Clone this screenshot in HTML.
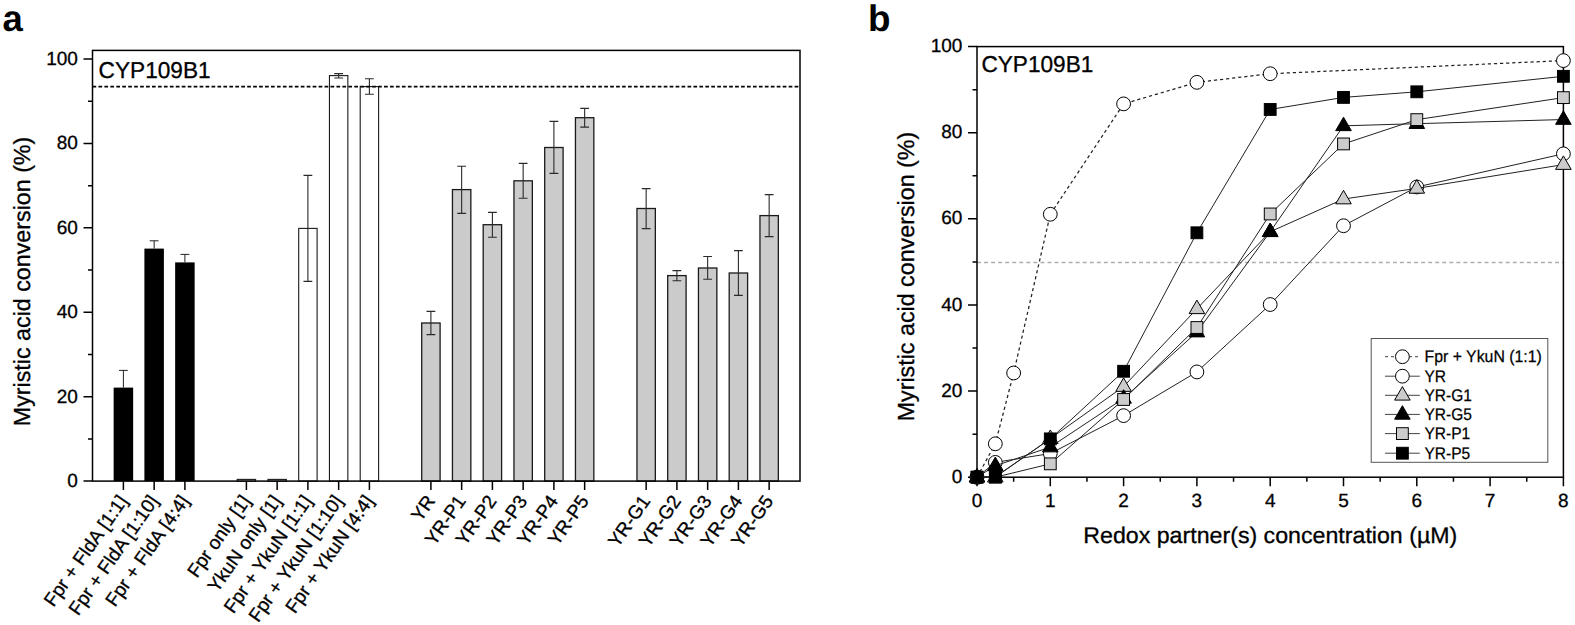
<!DOCTYPE html>
<html lang="en"><head><meta charset="utf-8"><title>Figure</title>
<style>
html,body{margin:0;padding:0;background:#fff;}
svg{display:block;font-family:"Liberation Sans", Arial, Helvetica, sans-serif;fill:#000;}
text{stroke:#000;stroke-width:0.3px;text-rendering:geometricPrecision;}
</style></head><body>
<svg width="1575" height="625" viewBox="0 0 1575 625">
<rect width="1575" height="625" fill="#fff"/>
<g id="panelA">
<rect x="113.65" y="387.6" width="19.5" height="93.5" fill="#000"/>
<path d="M123.4 387.6V370.4M119 370.4H127.8" stroke="#222" stroke-width="1" fill="none"/>
<rect x="144.4" y="248.6" width="19.5" height="232.5" fill="#000"/>
<path d="M154.15 248.6V240.8M149.75 240.8H158.55" stroke="#222" stroke-width="1" fill="none"/>
<rect x="175.15" y="262.4" width="19.5" height="218.7" fill="#000"/>
<path d="M184.9 262.4V254.4M180.5 254.4H189.3" stroke="#222" stroke-width="1" fill="none"/>
<rect x="237.2" y="479.4" width="18.4" height="1.7" fill="#fff" stroke="#1a1a1a" stroke-width="1.1"/>
<rect x="267.95" y="479.4" width="18.4" height="1.7" fill="#fff" stroke="#1a1a1a" stroke-width="1.1"/>
<rect x="298.7" y="228.4" width="18.4" height="252.7" fill="#fff" stroke="#1a1a1a" stroke-width="1.1"/>
<path d="M307.9 175.4V281.4M303.5 175.4H312.3M303.5 281.4H312.3" stroke="#2a2a2a" stroke-width="1.1" fill="none"/>
<rect x="329.45" y="75.6" width="18.4" height="405.5" fill="#fff" stroke="#1a1a1a" stroke-width="1.1"/>
<path d="M338.65 73.6V78M334.25 73.6H343.05M334.25 78H343.05" stroke="#2a2a2a" stroke-width="1.1" fill="none"/>
<rect x="360.2" y="86.6" width="18.4" height="394.5" fill="#fff" stroke="#1a1a1a" stroke-width="1.1"/>
<path d="M369.4 78.8V94.2M365 78.8H373.8M365 94.2H373.8" stroke="#2a2a2a" stroke-width="1.1" fill="none"/>
<rect x="421.7" y="323" width="18.4" height="158.1" fill="#cbcbcb" stroke="#1a1a1a" stroke-width="1.3"/>
<path d="M430.9 311.4V334.6M426.5 311.4H435.3M426.5 334.6H435.3" stroke="#2a2a2a" stroke-width="1.1" fill="none"/>
<rect x="452.45" y="189.6" width="18.4" height="291.5" fill="#cbcbcb" stroke="#1a1a1a" stroke-width="1.3"/>
<path d="M461.65 166.2V213.4M457.25 166.2H466.05M457.25 213.4H466.05" stroke="#2a2a2a" stroke-width="1.1" fill="none"/>
<rect x="483.2" y="224.7" width="18.4" height="256.4" fill="#cbcbcb" stroke="#1a1a1a" stroke-width="1.3"/>
<path d="M492.4 212.4V237.2M488 212.4H496.8M488 237.2H496.8" stroke="#2a2a2a" stroke-width="1.1" fill="none"/>
<rect x="513.95" y="180.8" width="18.4" height="300.3" fill="#cbcbcb" stroke="#1a1a1a" stroke-width="1.3"/>
<path d="M523.15 163.4V198.2M518.75 163.4H527.55M518.75 198.2H527.55" stroke="#2a2a2a" stroke-width="1.1" fill="none"/>
<rect x="544.7" y="147.5" width="18.4" height="333.6" fill="#cbcbcb" stroke="#1a1a1a" stroke-width="1.3"/>
<path d="M553.9 121.4V173.4M549.5 121.4H558.3M549.5 173.4H558.3" stroke="#2a2a2a" stroke-width="1.1" fill="none"/>
<rect x="575.45" y="117.7" width="18.4" height="363.4" fill="#cbcbcb" stroke="#1a1a1a" stroke-width="1.3"/>
<path d="M584.65 108.4V127.1M580.25 108.4H589.05M580.25 127.1H589.05" stroke="#2a2a2a" stroke-width="1.1" fill="none"/>
<rect x="636.95" y="208.5" width="18.4" height="272.6" fill="#cbcbcb" stroke="#1a1a1a" stroke-width="1.3"/>
<path d="M646.15 188.6V228.6M641.75 188.6H650.55M641.75 228.6H650.55" stroke="#2a2a2a" stroke-width="1.1" fill="none"/>
<rect x="667.7" y="275.6" width="18.4" height="205.5" fill="#cbcbcb" stroke="#1a1a1a" stroke-width="1.3"/>
<path d="M676.9 270.6V280.7M672.5 270.6H681.3M672.5 280.7H681.3" stroke="#2a2a2a" stroke-width="1.1" fill="none"/>
<rect x="698.45" y="268" width="18.4" height="213.1" fill="#cbcbcb" stroke="#1a1a1a" stroke-width="1.3"/>
<path d="M707.65 256.5V279.3M703.25 256.5H712.05M703.25 279.3H712.05" stroke="#2a2a2a" stroke-width="1.1" fill="none"/>
<rect x="729.2" y="273" width="18.4" height="208.1" fill="#cbcbcb" stroke="#1a1a1a" stroke-width="1.3"/>
<path d="M738.4 250.6V295.4M734 250.6H742.8M734 295.4H742.8" stroke="#2a2a2a" stroke-width="1.1" fill="none"/>
<rect x="759.95" y="215.6" width="18.4" height="265.5" fill="#cbcbcb" stroke="#1a1a1a" stroke-width="1.3"/>
<path d="M769.15 194.6V236.6M764.75 194.6H773.55M764.75 236.6H773.55" stroke="#2a2a2a" stroke-width="1.1" fill="none"/>
<line x1="92.5" y1="86.6" x2="800.0" y2="86.6" stroke="#000" stroke-width="1.6" stroke-dasharray="3.7 2.25"/>
<rect x="92.5" y="50.4" width="707.5" height="430.7" fill="none" stroke="#000" stroke-width="1.5"/>
<path d="M83.5 481.1H92.5M88 438.89H92.5M83.5 396.68H92.5M88 354.47H92.5M83.5 312.26H92.5M88 270.05H92.5M83.5 227.84H92.5M88 185.63H92.5M83.5 143.42H92.5M88 101.21H92.5M83.5 59H92.5" stroke="#000" stroke-width="1.5" fill="none"/>
<text x="77.9" y="486.95" text-anchor="end" font-size="19">0</text>
<text x="77.9" y="402.53" text-anchor="end" font-size="19">20</text>
<text x="77.9" y="318.11" text-anchor="end" font-size="19">40</text>
<text x="77.9" y="233.69" text-anchor="end" font-size="19">60</text>
<text x="77.9" y="149.27" text-anchor="end" font-size="19">80</text>
<text x="77.9" y="64.85" text-anchor="end" font-size="19">100</text>
<path d="M123.4 481.1v9M154.15 481.1v9M184.9 481.1v9M246.4 481.1v9M277.15 481.1v9M307.9 481.1v9M338.65 481.1v9M369.4 481.1v9M430.9 481.1v9M461.65 481.1v9M492.4 481.1v9M523.15 481.1v9M553.9 481.1v9M584.65 481.1v9M646.15 481.1v9M676.9 481.1v9M707.65 481.1v9M738.4 481.1v9M769.15 481.1v9" stroke="#000" stroke-width="1.5" fill="none"/>
<text transform="translate(128.4 501) rotate(-55)" text-anchor="end" font-size="19">Fpr + FldA [1:1]</text>
<text transform="translate(159.15 501) rotate(-55)" text-anchor="end" font-size="19">Fpr + FldA [1:10]</text>
<text transform="translate(189.9 501) rotate(-55)" text-anchor="end" font-size="19">Fpr + FldA [4:4]</text>
<text transform="translate(251.4 501) rotate(-55)" text-anchor="end" font-size="19">Fpr only [1]</text>
<text transform="translate(282.15 501) rotate(-55)" text-anchor="end" font-size="19">YkuN only [1]</text>
<text transform="translate(312.9 501) rotate(-55)" text-anchor="end" font-size="19">Fpr + YkuN [1:1]</text>
<text transform="translate(343.65 501) rotate(-55)" text-anchor="end" font-size="19">Fpr + YkuN [1:10]</text>
<text transform="translate(374.4 501) rotate(-55)" text-anchor="end" font-size="19">Fpr + YkuN [4:4]</text>
<text transform="translate(435.9 501) rotate(-55)" text-anchor="end" font-size="19">YR</text>
<text transform="translate(466.65 501) rotate(-55)" text-anchor="end" font-size="19">YR-P1</text>
<text transform="translate(497.4 501) rotate(-55)" text-anchor="end" font-size="19">YR-P2</text>
<text transform="translate(528.15 501) rotate(-55)" text-anchor="end" font-size="19">YR-P3</text>
<text transform="translate(558.9 501) rotate(-55)" text-anchor="end" font-size="19">YR-P4</text>
<text transform="translate(589.65 501) rotate(-55)" text-anchor="end" font-size="19">YR-P5</text>
<text transform="translate(651.15 501) rotate(-55)" text-anchor="end" font-size="19">YR-G1</text>
<text transform="translate(681.9 501) rotate(-55)" text-anchor="end" font-size="19">YR-G2</text>
<text transform="translate(712.65 501) rotate(-55)" text-anchor="end" font-size="19">YR-G3</text>
<text transform="translate(743.4 501) rotate(-55)" text-anchor="end" font-size="19">YR-G4</text>
<text transform="translate(774.15 501) rotate(-55)" text-anchor="end" font-size="19">YR-G5</text>
<text x="98.6" y="77.6" font-size="22.9" textLength="112" lengthAdjust="spacingAndGlyphs">CYP109B1</text>
<text transform="translate(30.2 426.2) rotate(-90)" font-size="23.3" textLength="289.5" lengthAdjust="spacingAndGlyphs">Myristic acid conversion (%)</text>
<text x="2.4" y="30.5" font-size="36.5" font-weight="bold" style="stroke-width:0">a</text>
</g>
<g id="panelB">
<line x1="977.0" y1="262.5" x2="1563.4" y2="262.5" stroke="#adadad" stroke-width="1.3" stroke-dasharray="3.9 3.15"/>
<rect x="977.0" y="46.6" width="586.4" height="430.6" fill="none" stroke="#000" stroke-width="1.5"/>
<path d="M968 477.2H977.0M972.5 434.14H977.0M968 391.08H977.0M972.5 348.02H977.0M968 304.96H977.0M972.5 261.9H977.0M968 218.84H977.0M972.5 175.78H977.0M968 132.72H977.0M972.5 89.66H977.0M968 46.6H977.0M977 477.2v9M1013.65 477.2v4.5M1050.3 477.2v9M1086.95 477.2v4.5M1123.6 477.2v9M1160.25 477.2v4.5M1196.9 477.2v9M1233.55 477.2v4.5M1270.2 477.2v9M1306.85 477.2v4.5M1343.5 477.2v9M1380.15 477.2v4.5M1416.8 477.2v9M1453.45 477.2v4.5M1490.1 477.2v9M1526.75 477.2v4.5M1563.4 477.2v9" stroke="#000" stroke-width="1.5" fill="none"/>
<text x="962.4" y="482.85" text-anchor="end" font-size="19">0</text>
<text x="962.4" y="396.73" text-anchor="end" font-size="19">20</text>
<text x="962.4" y="310.61" text-anchor="end" font-size="19">40</text>
<text x="962.4" y="224.49" text-anchor="end" font-size="19">60</text>
<text x="962.4" y="138.37" text-anchor="end" font-size="19">80</text>
<text x="962.4" y="52.25" text-anchor="end" font-size="19">100</text>
<text x="977" y="506.6" text-anchor="middle" font-size="19">0</text>
<text x="1050.3" y="506.6" text-anchor="middle" font-size="19">1</text>
<text x="1123.6" y="506.6" text-anchor="middle" font-size="19">2</text>
<text x="1196.9" y="506.6" text-anchor="middle" font-size="19">3</text>
<text x="1270.2" y="506.6" text-anchor="middle" font-size="19">4</text>
<text x="1343.5" y="506.6" text-anchor="middle" font-size="19">5</text>
<text x="1416.8" y="506.6" text-anchor="middle" font-size="19">6</text>
<text x="1490.1" y="506.6" text-anchor="middle" font-size="19">7</text>
<text x="1563.4" y="506.6" text-anchor="middle" font-size="19">8</text>
<polyline points="977,477.2 995.33,443.79 1013.65,372.99 1050.3,214.28 1123.6,103.87 1196.9,82.34 1270.2,73.73 1563.4,60.59" fill="none" stroke="#222" stroke-dasharray="3.2 2.9" stroke-width="1.25"/>
<circle cx="977" cy="477.2" r="6.9" fill="#fff" stroke="#000" stroke-width="1"/>
<circle cx="995.33" cy="443.79" r="6.9" fill="#fff" stroke="#000" stroke-width="1"/>
<circle cx="1013.65" cy="372.99" r="6.9" fill="#fff" stroke="#000" stroke-width="1"/>
<circle cx="1050.3" cy="214.28" r="6.9" fill="#fff" stroke="#000" stroke-width="1"/>
<circle cx="1123.6" cy="103.87" r="6.9" fill="#fff" stroke="#000" stroke-width="1"/>
<circle cx="1196.9" cy="82.34" r="6.9" fill="#fff" stroke="#000" stroke-width="1"/>
<circle cx="1270.2" cy="73.73" r="6.9" fill="#fff" stroke="#000" stroke-width="1"/>
<circle cx="1563.4" cy="60.59" r="6.9" fill="#fff" stroke="#000" stroke-width="1"/>
<polyline points="977,477.2 995.33,462.39 1050.3,453.52 1123.6,415.62 1196.9,371.92 1270.2,304.53 1343.5,225.73 1416.8,186.98 1563.4,153.82" fill="none" stroke="#222" stroke-width="1"/>
<circle cx="977" cy="477.2" r="6.9" fill="#fff" stroke="#000" stroke-width="1"/>
<circle cx="995.33" cy="462.39" r="6.9" fill="#fff" stroke="#000" stroke-width="1"/>
<circle cx="1050.3" cy="453.52" r="6.9" fill="#fff" stroke="#000" stroke-width="1"/>
<circle cx="1123.6" cy="415.62" r="6.9" fill="#fff" stroke="#000" stroke-width="1"/>
<circle cx="1196.9" cy="371.92" r="6.9" fill="#fff" stroke="#000" stroke-width="1"/>
<circle cx="1270.2" cy="304.53" r="6.9" fill="#fff" stroke="#000" stroke-width="1"/>
<circle cx="1343.5" cy="225.73" r="6.9" fill="#fff" stroke="#000" stroke-width="1"/>
<circle cx="1416.8" cy="186.98" r="6.9" fill="#fff" stroke="#000" stroke-width="1"/>
<circle cx="1563.4" cy="153.82" r="6.9" fill="#fff" stroke="#000" stroke-width="1"/>
<polyline points="977,477.2 995.33,477.2 1050.3,438.66 1123.6,386.56 1196.9,308.84 1270.2,231.76 1343.5,199.03 1416.8,188.4 1563.4,164.58" fill="none" stroke="#222" stroke-width="1"/>
<path d="M977 468.5L984.8 482H969.2Z" fill="#cccccc" stroke="#000" stroke-width="1"/>
<path d="M995.33 468.5L1003.12 482H987.53Z" fill="#cccccc" stroke="#000" stroke-width="1"/>
<path d="M1050.3 429.96L1058.1 443.46H1042.5Z" fill="#cccccc" stroke="#000" stroke-width="1"/>
<path d="M1123.6 377.86L1131.4 391.36H1115.8Z" fill="#cccccc" stroke="#000" stroke-width="1"/>
<path d="M1196.9 300.14L1204.7 313.64H1189.1Z" fill="#cccccc" stroke="#000" stroke-width="1"/>
<path d="M1270.2 223.06L1278 236.56H1262.4Z" fill="#cccccc" stroke="#000" stroke-width="1"/>
<path d="M1343.5 190.33L1351.3 203.83H1335.7Z" fill="#cccccc" stroke="#000" stroke-width="1"/>
<path d="M1416.8 179.7L1424.6 193.2H1409Z" fill="#cccccc" stroke="#000" stroke-width="1"/>
<path d="M1563.4 155.88L1571.2 169.38H1555.6Z" fill="#cccccc" stroke="#000" stroke-width="1"/>
<polyline points="977,477.2 995.33,465.79 1050.3,447.06 1123.6,398.4 1196.9,332.09 1270.2,231.76 1343.5,125.83 1416.8,123.68 1563.4,119.54" fill="none" stroke="#222" stroke-width="1"/>
<path d="M977 468.5L984.8 482H969.2Z" fill="#000" stroke="#000" stroke-width="1"/>
<path d="M995.33 457.09L1003.12 470.59H987.53Z" fill="#000" stroke="#000" stroke-width="1"/>
<path d="M1050.3 438.36L1058.1 451.86H1042.5Z" fill="#000" stroke="#000" stroke-width="1"/>
<path d="M1123.6 389.7L1131.4 403.2H1115.8Z" fill="#000" stroke="#000" stroke-width="1"/>
<path d="M1196.9 323.39L1204.7 336.89H1189.1Z" fill="#000" stroke="#000" stroke-width="1"/>
<path d="M1270.2 223.06L1278 236.56H1262.4Z" fill="#000" stroke="#000" stroke-width="1"/>
<path d="M1343.5 117.13L1351.3 130.63H1335.7Z" fill="#000" stroke="#000" stroke-width="1"/>
<path d="M1416.8 114.98L1424.6 128.48H1409Z" fill="#000" stroke="#000" stroke-width="1"/>
<path d="M1563.4 110.84L1571.2 124.34H1555.6Z" fill="#000" stroke="#000" stroke-width="1"/>
<polyline points="977,477.2 995.33,477.2 1050.3,463.85 1123.6,399.48 1196.9,327.52 1270.2,213.97 1343.5,143.92 1416.8,119.63 1563.4,97.63" fill="none" stroke="#222" stroke-width="1"/>
<rect x="971.1" y="471.3" width="11.8" height="11.8" fill="#cccccc" stroke="#000" stroke-width="1"/>
<rect x="989.43" y="471.3" width="11.8" height="11.8" fill="#cccccc" stroke="#000" stroke-width="1"/>
<rect x="1044.4" y="457.95" width="11.8" height="11.8" fill="#cccccc" stroke="#000" stroke-width="1"/>
<rect x="1117.7" y="393.58" width="11.8" height="11.8" fill="#cccccc" stroke="#000" stroke-width="1"/>
<rect x="1191" y="321.62" width="11.8" height="11.8" fill="#cccccc" stroke="#000" stroke-width="1"/>
<rect x="1264.3" y="208.07" width="11.8" height="11.8" fill="#cccccc" stroke="#000" stroke-width="1"/>
<rect x="1337.6" y="138.02" width="11.8" height="11.8" fill="#cccccc" stroke="#000" stroke-width="1"/>
<rect x="1410.9" y="113.73" width="11.8" height="11.8" fill="#cccccc" stroke="#000" stroke-width="1"/>
<rect x="1557.5" y="91.73" width="11.8" height="11.8" fill="#cccccc" stroke="#000" stroke-width="1"/>
<polyline points="977,477.2 995.33,476.77 1050.3,438.88 1123.6,371.27 1196.9,232.79 1270.2,109.47 1343.5,97.41 1416.8,91.81 1563.4,76.31" fill="none" stroke="#222" stroke-width="1"/>
<rect x="971.1" y="471.3" width="11.8" height="11.8" fill="#000" stroke="#000" stroke-width="1"/>
<rect x="989.43" y="470.87" width="11.8" height="11.8" fill="#000" stroke="#000" stroke-width="1"/>
<rect x="1044.4" y="432.98" width="11.8" height="11.8" fill="#000" stroke="#000" stroke-width="1"/>
<rect x="1117.7" y="365.37" width="11.8" height="11.8" fill="#000" stroke="#000" stroke-width="1"/>
<rect x="1191" y="226.89" width="11.8" height="11.8" fill="#000" stroke="#000" stroke-width="1"/>
<rect x="1264.3" y="103.57" width="11.8" height="11.8" fill="#000" stroke="#000" stroke-width="1"/>
<rect x="1337.6" y="91.51" width="11.8" height="11.8" fill="#000" stroke="#000" stroke-width="1"/>
<rect x="1410.9" y="85.91" width="11.8" height="11.8" fill="#000" stroke="#000" stroke-width="1"/>
<rect x="1557.5" y="70.41" width="11.8" height="11.8" fill="#000" stroke="#000" stroke-width="1"/>
<rect x="1371.2" y="338.5" width="176.6" height="123.8" fill="#fff" stroke="#555" stroke-width="1"/>
<line x1="1385" y1="356.7" x2="1419.8" y2="356.7" stroke="#444" stroke-width="1" stroke-dasharray="3 3"/>
<circle cx="1402.4" cy="356.7" r="6.9" fill="#fff" stroke="#000" stroke-width="1"/>
<text transform="translate(1424.5 362.2) scale(0.945 1)" font-size="16.8" style="stroke-width:0.25px">Fpr + YkuN (1:1)</text>
<line x1="1385" y1="376.2" x2="1419.8" y2="376.2" stroke="#444" stroke-width="1"/>
<circle cx="1402.4" cy="376.2" r="6.9" fill="#fff" stroke="#000" stroke-width="1"/>
<text transform="translate(1424.5 381.7) scale(0.925 1)" font-size="16.8" style="stroke-width:0.25px">YR</text>
<line x1="1385" y1="395.3" x2="1419.8" y2="395.3" stroke="#444" stroke-width="1"/>
<path d="M1402.4 386.6L1410.2 400.1H1394.6Z" fill="#cccccc" stroke="#000" stroke-width="1"/>
<text transform="translate(1424.5 400.8) scale(0.925 1)" font-size="16.8" style="stroke-width:0.25px">YR-G1</text>
<line x1="1385" y1="414.4" x2="1419.8" y2="414.4" stroke="#444" stroke-width="1"/>
<path d="M1402.4 405.7L1410.2 419.2H1394.6Z" fill="#000" stroke="#000" stroke-width="1"/>
<text transform="translate(1424.5 419.9) scale(0.925 1)" font-size="16.8" style="stroke-width:0.25px">YR-G5</text>
<line x1="1385" y1="433.6" x2="1419.8" y2="433.6" stroke="#444" stroke-width="1"/>
<rect x="1396.5" y="427.7" width="11.8" height="11.8" fill="#cccccc" stroke="#000" stroke-width="1"/>
<text transform="translate(1424.5 439.1) scale(0.925 1)" font-size="16.8" style="stroke-width:0.25px">YR-P1</text>
<line x1="1385" y1="453.2" x2="1419.8" y2="453.2" stroke="#444" stroke-width="1"/>
<rect x="1396.5" y="447.3" width="11.8" height="11.8" fill="#000" stroke="#000" stroke-width="1"/>
<text transform="translate(1424.5 458.7) scale(0.925 1)" font-size="16.8" style="stroke-width:0.25px">YR-P5</text>
<text x="981.4" y="71.8" font-size="22.9" textLength="112" lengthAdjust="spacingAndGlyphs">CYP109B1</text>
<text x="1083.3" y="543.2" font-size="22.7" textLength="374" lengthAdjust="spacingAndGlyphs">Redox partner(s) concentration (µM)</text>
<text transform="translate(914.1 421.3) rotate(-90)" font-size="23.3" textLength="289.5" lengthAdjust="spacingAndGlyphs">Myristic acid conversion (%)</text>
<text x="867.9" y="30.5" font-size="36.8" font-weight="bold" style="stroke-width:0">b</text>
</g>
</svg>
</body></html>
